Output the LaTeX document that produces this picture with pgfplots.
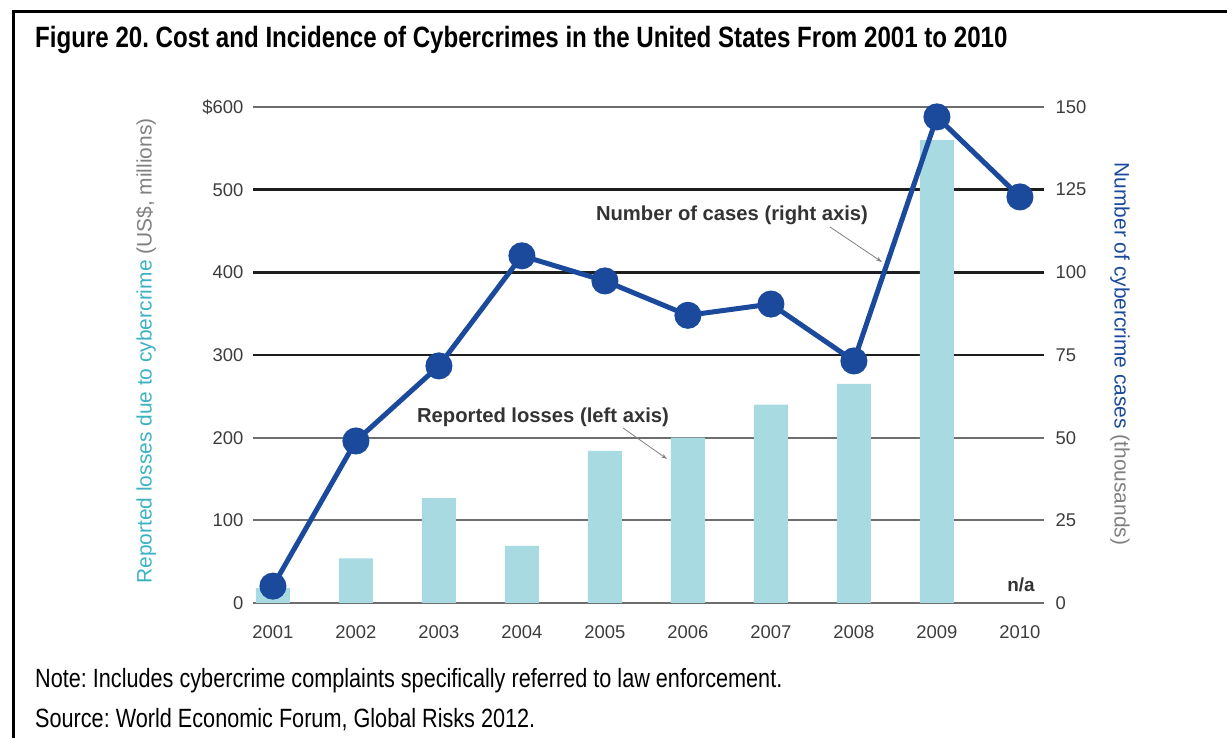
\documentclass[border=0pt]{standalone}
\usepackage{pgfplots}
\pgfplotsset{compat=1.18}
\usetikzlibrary{arrows.meta}
\usepackage{fontspec}
\setmainfont{Liberation Sans}
\newfontfamily\narrowfont[FakeStretch=0.82]{Liberation Sans}
\frenchspacing

\definecolor{linecol}{RGB}{27,74,156}
\definecolor{barcol}{RGB}{168,218,226}
\definecolor{tealc}{RGB}{59,178,196}
\definecolor{tickc}{RGB}{60,60,60}
\definecolor{gridg}{RGB}{110,110,110}
\definecolor{gridk}{RGB}{30,30,30}

\newcommand{\tickfont}{\fontsize{18.5}{21}\selectfont}

\begin{document}
\begin{tikzpicture}[x=1bp,y=1bp]
\path[use as bounding box] (0,0) rectangle (1227,738);

% outer frame (top and left edges only, the rest is cropped)
\draw[line width=3bp] (13.5,0) -- (13.5,726.5) -- (1227,726.5);

% title
\node[anchor=base west, inner sep=0pt] at (35,690)
  {\narrowfont\bfseries\fontsize{29.5}{33}\selectfont Figure 20. Cost and Incidence of Cybercrimes in the United States From 2001 to 2010};

% left axis: reported losses (bars)
\begin{axis}[
    at={(253bp,135bp)}, anchor=south west,
    scale only axis, width=791bp, height=496bp,
    xmin=2000.76, xmax=2010.29,
    ymin=0, ymax=600,
    axis line style={draw=none},
    major tick length=0pt,
    xtick={2001,...,2010},
    xticklabels={2001,2002,2003,2004,2005,2006,2007,2008,2009,2010},
    ytick={0,100,200,600},
    yticklabels={0,100,200,\$600},
    extra y ticks={300,400,500},
    extra y tick labels={300,400,500},
    extra y tick style={grid style={gridk, line width=2.6bp}},
    ymajorgrids=true,
    grid style={gridg, line width=1.7bp},
    tick label style={font=\tickfont, text=tickc},
    xticklabel style={yshift=-19bp},
    yticklabel style={xshift=-6bp},
]
\addplot[ybar, bar width=34bp, fill=barcol, draw=none] coordinates {
    (2001,18) (2002,54) (2003,127) (2004,69) (2005,184)
    (2006,200) (2007,240) (2008,265) (2009,560)
};
\end{axis}

% right axis: number of cases (line)
\begin{axis}[
    at={(253bp,135bp)}, anchor=south west,
    scale only axis, width=791bp, height=496bp,
    xmin=2000.76, xmax=2010.29,
    ymin=0, ymax=150,
    axis x line=none,
    axis y line*=right,
    axis line style={draw=none},
    major tick length=0pt,
    ytick={0,25,50,75,100,125,150},
    yticklabels={0,25,50,75,100,125,150},
    tick label style={font=\tickfont, text=tickc},
    yticklabel style={xshift=8bp},
]
\addplot[linecol, line width=5bp, mark=*, mark size=11bp,
         mark options={fill=linecol, draw=linecol}] coordinates {
    (2001,5.1) (2002,49) (2003,71.7) (2004,105) (2005,97.4)
    (2006,87) (2007,90.4) (2008,73.2) (2009,147) (2010,122.8)
};
\end{axis}

% axis titles
\node[rotate=90] at (146,387)
  {\fontsize{21}{24}\selectfont\textcolor{tealc}{Reported losses due to cybercrime} \textcolor{gray}{(US\$, millions)}};
\node[rotate=-90] at (1120,384)
  {\fontsize{21}{24}\selectfont\textcolor{linecol}{Number of cybercrime cases} \textcolor{gray}{(thousands)}};

% annotations
\node[text=black!80] at (732,523) {\fontsize{20.3}{23}\selectfont\bfseries Number of cases (right axis)};
\draw[gray, line width=0.8bp, -{Stealth[length=6bp,width=4bp]}] (830,511) -- (882,476);
\node[text=black!80] at (543,321) {\fontsize{20.3}{23}\selectfont\bfseries Reported losses (left axis)};
\draw[gray, line width=0.8bp, -{Stealth[length=6bp,width=4bp]}] (623,310) -- (667,279);
\node[text=black!80] at (1021,153) {\fontsize{19}{22}\selectfont\bfseries n/a};

% notes
\node[anchor=base west, inner sep=0pt] at (35,50)
  {\narrowfont\fontsize{26.5}{30}\selectfont Note: Includes cybercrime complaints specifically referred to law enforcement.};
\node[anchor=base west, inner sep=0pt] at (35,10)
  {\narrowfont\fontsize{26.5}{30}\selectfont Source: World Economic Forum, Global Risks 2012.};
\end{tikzpicture}
\end{document}
